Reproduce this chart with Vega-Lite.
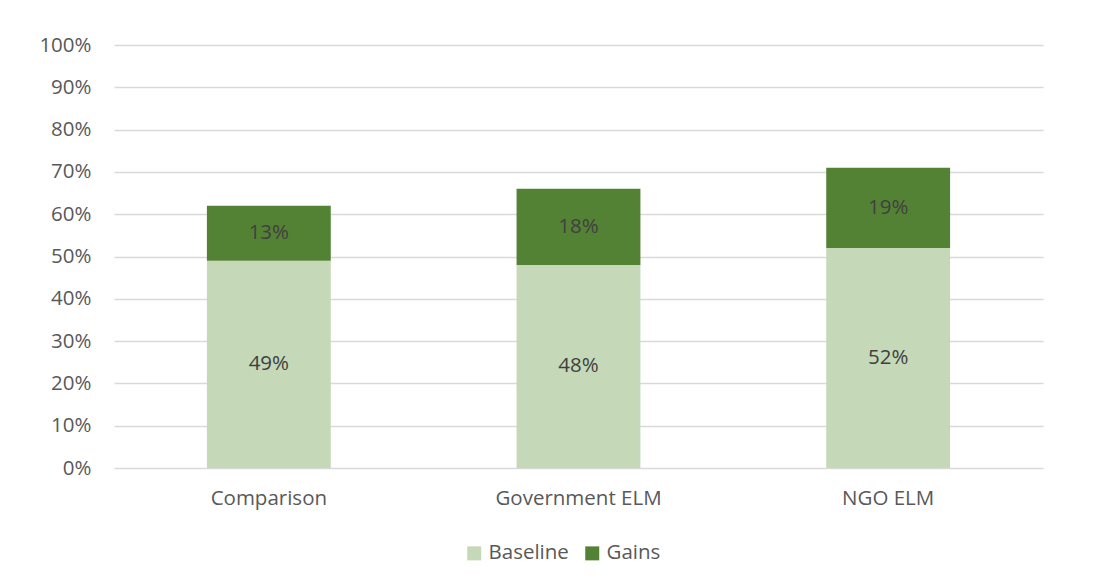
{
  "$schema": "https://vega.github.io/schema/vega-lite/v6.json",
  "autosize": {"type": "none"},
  "width": 929,
  "height": 423,
  "padding": {"left": 114, "top": 45, "right": 52, "bottom": 116},
  "background": "white",
  "config": {
    "view": {"stroke": null},
    "font": "Open Sans",
    "axis": {"labelFont": "Open Sans", "labelColor": "#595959", "labelFontSize": 20.5},
    "legend": {"labelFont": "Open Sans", "labelColor": "#595959", "labelFontSize": 20.5}
  },
  "data": {
    "values": [
      {"group": "Comparison", "series": "Baseline", "value": 0.49, "ord": 1},
      {"group": "Comparison", "series": "Gains", "value": 0.13, "ord": 2},
      {"group": "Government ELM", "series": "Baseline", "value": 0.48, "ord": 1},
      {"group": "Government ELM", "series": "Gains", "value": 0.18, "ord": 2},
      {"group": "NGO ELM", "series": "Baseline", "value": 0.52, "ord": 1},
      {"group": "NGO ELM", "series": "Gains", "value": 0.19, "ord": 2}
    ]
  },
  "transform": [
    {"stack": "value", "groupby": ["group"], "sort": [{"field": "ord"}], "as": ["v0", "v1"]},
    {"calculate": "(datum.v0 + datum.v1) / 2", "as": "mid"}
  ],
  "encoding": {
    "x": {
      "field": "group", "type": "nominal", "sort": null,
      "scale": {"paddingInner": 0.6, "paddingOuter": 0.3},
      "axis": {"title": null, "labelAngle": 0, "domain": false, "ticks": false, "labelPadding": 20, "grid": false}
    }
  },
  "layer": [
    {
      "mark": {"type": "bar"},
      "encoding": {
        "y": {
          "field": "v0", "type": "quantitative",
          "scale": {"domain": [0, 1]},
          "axis": {"title": null, "format": ".0%", "values": [0,0.1,0.2,0.3,0.4,0.5,0.6,0.7,0.8,0.9,1], "labelOverlap": false, "domain": false, "ticks": false, "labelPadding": 23, "gridColor": "#D9D9D9", "gridWidth": 1.3}
        },
        "y2": {"field": "v1"},
        "color": {
          "field": "series", "type": "nominal",
          "scale": {"domain": ["Baseline", "Gains"], "range": ["#C5D9B9", "#548235"]},
          "legend": {
            "title": null, "orient": "none", "direction": "horizontal",
            "legendX": 350, "legendY": 498,
            "symbolType": "square", "symbolSize": 196, "symbolStrokeWidth": 0,
            "symbolOpacity": 1, "labelOffset": 4, "columnPadding": 13
          }
        }
      }
    },
    {
      "mark": {"type": "text", "fontSize": 20.5, "color": "#404040", "font": "Open Sans"},
      "encoding": {
        "y": {
          "field": "mid", "type": "quantitative",
          "axis": {"title": null, "format": ".0%", "values": [0,0.1,0.2,0.3,0.4,0.5,0.6,0.7,0.8,0.9,1], "labelOverlap": false, "domain": false, "ticks": false, "labelPadding": 23, "gridColor": "#D9D9D9", "gridWidth": 1.3}
        },
        "text": {"field": "value", "type": "quantitative", "format": ".0%"}
      }
    }
  ]
}
